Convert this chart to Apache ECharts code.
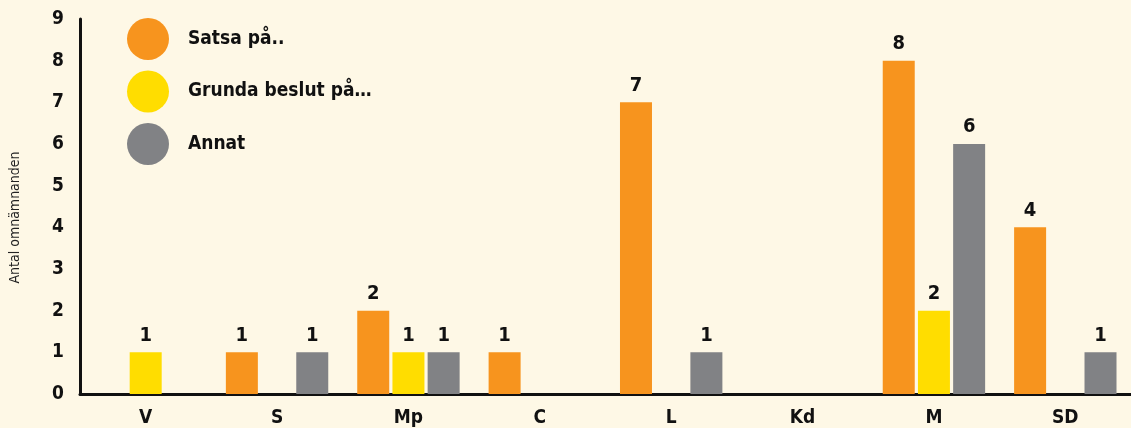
<!DOCTYPE html>
<html><head><meta charset="utf-8">
<script src="https://cdn.jsdelivr.net/npm/echarts@6/dist/echarts.min.js"></script>
<style>html,body{margin:0;padding:0;background:#FEF8E6;}#c{width:1131px;height:428px;}</style>
</head><body><div id="c"></div>
<script>
const categories = ['V','S','Mp','C','L','Kd','M','SD'];
const satsa = [0,1,2,1,7,0,8,4];
const grunda = [1,0,1,0,0,0,2,0];
const annat = [0,1,1,0,1,0,6,1];
const seriesNames = ['Satsa på..','Grunda beslut på…','Annat'];
const yTicks = [0,1,2,3,4,5,6,7,8,9];
const FONT = '"Liberation Sans Narrow","DejaVu Sans Condensed",sans-serif';
const colors = ['#F7941E','#FFDD00','#818285'];
const lbl = {show:true, position:'top', distance:7, color:'#111', fontFamily:FONT, fontWeight:'bold', fontSize:20,
  formatter: p => p.value === 0 ? '' : String(p.value)};
const mk = (name, data, i) => ({name, type:'bar', data, barWidth:32, barGap:'10%', itemStyle:{color:colors[i]}, label:lbl});
const chart = echarts.init(document.getElementById('c'));
chart.setOption({
  backgroundColor:'#FEF8E6',
  animation:false,
  grid:{left:80, right:0, top:19, bottom:34},
  legend:{orient:'vertical', left:122, top:13, icon:'circle', itemWidth:42, itemHeight:42, itemGap:10.5,
    textStyle:{fontFamily:FONT, fontWeight:'bold', fontSize:19, color:'#111', padding:[0,0,0,14]}, selectedMode:false},
  xAxis:{type:'category', data:categories,
    axisLine:{lineStyle:{color:'#111', width:3}}, axisTick:{show:false},
    axisLabel:{fontFamily:FONT, fontWeight:'bold', fontSize:19, color:'#111', margin:15}},
  yAxis:{type:'value', min:yTicks[0], max:yTicks[yTicks.length-1], interval:1,
    name:'Antal omnämnanden', nameLocation:'middle', nameGap:58, nameRotate:90,
    nameTextStyle:{fontFamily:FONT, fontSize:14, color:'#222', padding:[0,22,0,0]},
    axisLine:{show:true, lineStyle:{color:'#111', width:3}}, axisTick:{show:false}, splitLine:{show:false},
    axisLabel:{fontFamily:FONT, fontWeight:'bold', fontSize:19, color:'#111', margin:16, padding:[8,0,0,0]}},
  series:[mk(seriesNames[0], satsa, 0), mk(seriesNames[1], grunda, 1), mk(seriesNames[2], annat, 2)]
});
</script></body></html>
